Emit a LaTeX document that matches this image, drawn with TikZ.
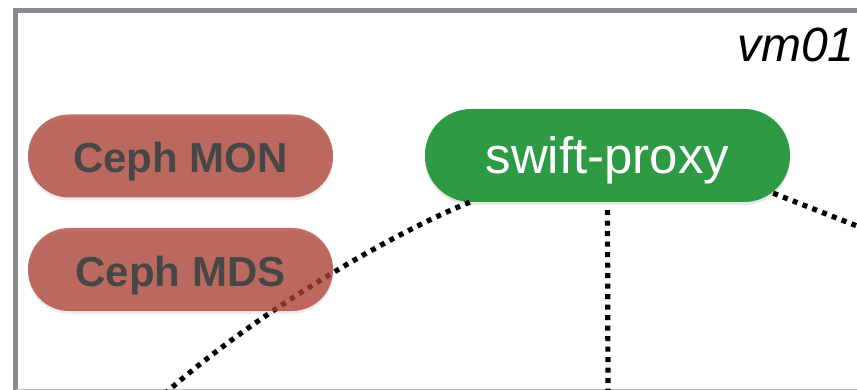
\documentclass[tikz,border=0pt]{standalone}
\usepackage{fontspec}
\setmainfont{Liberation Sans}
\usetikzlibrary{shadows}
\definecolor{cephred}{RGB}{172,62,48}
\definecolor{proxygreen}{RGB}{46,154,68}
\definecolor{framegray}{RGB}{138,140,143}
\definecolor{labelgray}{RGB}{71,71,71}

\begin{document}
\begin{tikzpicture}[x=1pt,y=-1pt,
    cephbox/.style={rectangle, rounded corners=41pt, minimum width=305pt, minimum height=83pt,
      fill=cephred, fill opacity=0.75, text opacity=1, text=labelgray,
      font=\fontsize{42}{42}\selectfont\bfseries, text height=34pt, text depth=0pt,
      drop shadow={shadow xshift=0pt, shadow yshift=-3pt, opacity=0.15}},
    proxybox/.style={rectangle, rounded corners=46pt, minimum width=365pt, minimum height=93pt,
      fill=proxygreen, text=white, font=\fontsize{51}{51}\selectfont,
      text height=36pt, text depth=0pt,
      drop shadow={shadow xshift=0pt, shadow yshift=-3pt, opacity=0.2}},
    link/.style={line width=5.2pt, dash pattern=on 5pt off 5.5pt}]
  \useasboundingbox (0,0) rectangle (857,390);
  \clip (0,0) rectangle (857,390);

  % vm frame
  \draw[framegray, line width=5pt] (880,10.5) -- (15.5,10.5) -- (15.5,400);
  \draw[gray!50, line width=1pt] (15.5,389.5) -- (880,389.5);
  \node[anchor=base east, font=\fontsize{48}{48}\selectfont\itshape] (vm) at (858,62) {vm01};

  % free ends below and right of the crop
  \coordinate (leftend) at (160,398);
  \coordinate (midend) at (608,398);
  \coordinate (rightend) at (880,235);

  \node[proxybox] (proxy) at (607.5,155.5) {swift-proxy};

  % links from the proxy
  \draw[link] ([xshift=45pt]proxy.south west) .. controls (400,230) and (260,308) .. (leftend);
  \draw[link] ([yshift=-8pt]proxy.south) -- (midend);
  \draw[link] ([xshift=-17pt,yshift=9pt]proxy.south east) -- (rightend);

  % ceph daemons
  \node[cephbox] (mon) at (180.5,156) {Ceph MON};
  \node[cephbox] (mds) at (180.5,269.5) {Ceph MDS};
\end{tikzpicture}
\end{document}
